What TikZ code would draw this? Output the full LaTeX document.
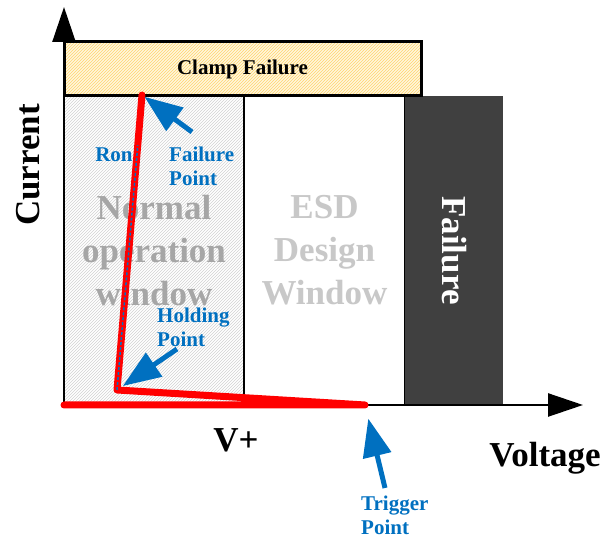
\documentclass[tikz,border=0pt]{standalone}
\usepackage{fontspec}
\setmainfont{Liberation Serif}
\usetikzlibrary{arrows.meta,patterns,calc}
\definecolor{ptblue}{RGB}{0,112,192}
\definecolor{hatchyel}{RGB}{255,212,110}
\definecolor{paleyel}{RGB}{255,247,222}
\definecolor{failgray}{RGB}{64,64,64}
\definecolor{normgray}{RGB}{166,166,166}
\definecolor{esdgray}{RGB}{200,200,200}
\newcommand{\bigtxt}{\fontsize{35}{43}\selectfont\bfseries}
\newcommand{\lbltxt}{\fontsize{21}{24}\selectfont\bfseries}

\begin{document}
\begin{tikzpicture}[
    x=1pt, y=1pt,
    win/.style={draw, line width=2pt, minimum height=309pt, inner sep=0pt,
                align=center, font=\bigtxt},
    axis/.style={line width=2.5pt, -{Triangle[length=35pt, width=23pt]}},
    curve/.style={red, line width=7pt, line join=round, line cap=round},
    ron/.style={ptblue, line width=1.5pt, dash pattern=on 3pt off 2pt},
    pointer/.style={ptblue, line width=5pt, -{Triangle[length=38pt, width=28pt]}},
    lbl/.style={text=ptblue, font=\lbltxt, align=left, inner sep=0pt}
  ]
  \useasboundingbox (0,0) rectangle (606,540);

  % windows
  \node[win, minimum width=180pt, text=normgray,
        preaction={fill=white}, pattern=north east lines, pattern color=gray!35]
        (normal) at (154,289.5) {Normal\\operation\\window};
  \node[win, minimum width=161pt, text=esdgray, fill=white]
        (esd) at (324.5,289.5) {ESD\\Design\\Window};
  \node[minimum width=98pt, minimum height=309pt, inner sep=0pt, fill=failgray]
        (fail) at (454,289.5) {};
  \node[rotate=-90, text=white, font=\bigtxt] (failtxt) at (fail.center) {Failure};
  \node[draw, line width=3pt, minimum width=357pt, minimum height=54pt,
        preaction={fill=paleyel}, pattern=north east lines, pattern color=hatchyel,
        font=\lbltxt] (clamp) at (242.5,471) {};
  \node[font=\lbltxt] (clamptxt) at (clamp.center) {Clamp Failure};

  % axes
  \coordinate (origin) at (64,135);
  \coordinate (ytip) at (64,533);
  \coordinate (xtip) at (583,135);
  \draw[axis] (origin) -- (ytip);
  \draw[axis] (origin) -- (xtip);
  \node[rotate=90, font=\bigtxt] (ylab) at (28,375) {Current};
  \node[font=\bigtxt] (xlab) at (545,82) {Voltage};
  \node[font=\bigtxt] (vplus) at (236,100) {V+};

  % snapback curve
  \coordinate (trig) at (365,135);
  \coordinate (hold) at (117,150);
  \coordinate (failpt) at (142,445);
  \draw[curve] (origin) -- (trig) -- (hold) -- (failpt);
  \draw[ron] (hold) -- ($(hold)!0.83!(failpt)$);
  \node[lbl] (ronlbl) at (114,385) {Ron};

  % points
  \coordinate (fptail) at (192,408);
  \coordinate (hptail) at (177,191);
  \coordinate (tptail) at (385,52);
  \draw[pointer, shorten >=3pt] (fptail) -- (failpt);
  \draw[pointer, shorten >=7pt] (hptail) -- (hold);
  \draw[pointer, shorten >=14pt] (tptail) -- (trig);
  \node[lbl, anchor=west] (fplbl) at (169,374) {Failure\\Point};
  \node[lbl, anchor=west] (hplbl) at (157,213) {Holding\\Point};
  \node[lbl, anchor=west] (tplbl) at (361,25) {Trigger\\Point};
\end{tikzpicture}
\end{document}
